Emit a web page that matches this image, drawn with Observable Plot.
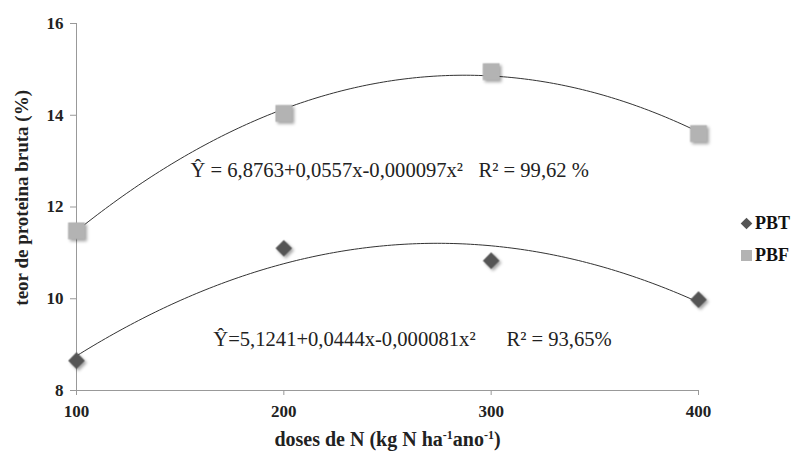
<!DOCTYPE html>
<html><head><meta charset="utf-8">
<script src="https://cdn.jsdelivr.net/npm/d3@7"></script>
<script src="https://cdn.jsdelivr.net/npm/@observablehq/plot@0.6"></script>
<style>
body{margin:0;background:#fff;}
#wrap{position:relative;width:797px;height:453px;font-family:"Liberation Serif",serif;}
.leg{position:absolute;left:741px;height:20px;font:bold 18px "Liberation Serif",serif;display:flex;align-items:center;gap:3px;color:#111;}
.sw{display:inline-block;width:11px;height:11px;}
</style></head>
<body><div id="wrap"></div>
<script>
const doses = [100, 200, 300, 400];
const pbt = [8.65, 11.1, 10.83, 9.98];
const pbf = [11.48, 14.04, 14.95, 13.6];
const coefPBT = [5.1241, 0.0444, -0.000081];
const coefPBF = [6.8763, 0.0557, -0.000097];
const yTicks = [8, 10, 12, 14, 16];
const xTicks = [100, 200, 300, 400];
const eqPBF = "Ŷ = 6,8763+0,0557x-0,000097x²   R² = 99,62 %";
const eqPBT = "Ŷ=5,1241+0,0444x-0,000081x²      R² = 93,65%";

const pts = doses.flatMap((d,i)=>[{x:d,y:pbt[i],s:"PBT"},{x:d,y:pbf[i],s:"PBF"}]);
const xs = d3.range(100, 400.5, 2);
const curve = (c,s)=>xs.map(x=>({x, y:c[0]+c[1]*x+c[2]*x*x, s}));

const plot = Plot.plot({
  width: 797, height: 453,
  marginLeft: 76, marginRight: 99, marginTop: 23, marginBottom: 63,
  style: {fontFamily: "'Liberation Serif', serif", background: "#fff", overflow: "visible"},
  x: {type: "linear", domain: [100, 400]},
  y: {type: "linear", domain: [8, 16]},
  marks: [
    Plot.ruleX([100], {stroke: "#999"}),
    Plot.ruleY([8], {stroke: "#999"}),
    Plot.axisY({ticks: yTicks, tickSize: 6, stroke: "#999", tickPadding: 7, fontSize: 17, fontWeight: "bold", fill: "#222", label: null, tickFormat: d=>d}),
    Plot.axisX({ticks: xTicks, tickSize: 5, stroke: "#999", tickPadding: 9, fontSize: 17, fontWeight: "bold", fill: "#222", label: null, tickFormat: d=>d}),
    Plot.line(curve(coefPBF,"PBF"), {x:"x", y:"y", stroke: "#333", strokeWidth: 1}),
    Plot.line(curve(coefPBT,"PBT"), {x:"x", y:"y", stroke: "#333", strokeWidth: 1}),
    Plot.dot(pts.filter(d=>d.s==="PBF"), {x:"x", y:"y", symbol: "square", r: 9.5, fill: "#b3b3b3", stroke: "none"}),
    Plot.dot(pts.filter(d=>d.s==="PBT"), {x:"x", y:"y", symbol: "diamond2", r: 7.5, fill: "#555", stroke: "none"}),
    Plot.text([eqPBF], {x: 155, y: 12.8, text: d=>d, textAnchor: "start", fontSize: 20.6, fill: "#222"}),
    Plot.text([eqPBT], {x: 166, y: 9.11, text: d=>d, textAnchor: "start", fontSize: 20.6, fill: "#222"}),
    Plot.text(["doses de N (kg N ha-1ano-1)"], {frameAnchor: "bottom", dy: 55, text: d=>d, fontSize: 20, fontWeight: "bold", fill: "#222"}),
    Plot.text(["teor de proteina bruta (%)"], {y: [12.2], frameAnchor: "left", dx: -55, rotate: -90, textAnchor: "middle", text: d=>d, fontSize: 19, fontWeight: "bold", fill: "#222"})
  ]
});
d3.select(plot).selectAll('g[aria-label="dot"]').attr("filter","drop-shadow(2px 2px 1.5px rgba(0,0,0,0.35))");
// superscripts on x label
d3.select(plot).selectAll("text").filter(function(){return this.textContent==="doses de N (kg N ha-1ano-1)";}).each(function(){
  const t = d3.select(this); t.text(null);
  const parts = [["doses de N (kg N ha",false],["-1",true],["ano",false],["-1",true],[")",false]];
  for (const [p,sup] of parts) {
    const ts = t.append("tspan").text(p);
    if (sup) ts.attr("font-size", 12).attr("baseline-shift", "super");
  }
});
const wrap = document.getElementById("wrap");
wrap.appendChild(plot);
const leg = [["PBT","#555",true,213],["PBF","#b3b3b3",false,245]];
for (const [name,col,dia,top] of leg) {
  const d = document.createElement("div");
  d.className = "leg"; d.style.top = top + "px";
  const s = document.createElement("span"); s.className="sw"; s.style.background = col;
  if (dia) { s.style.transform = "rotate(45deg) scale(0.75)"; }
  d.appendChild(s); d.appendChild(document.createTextNode(name));
  wrap.appendChild(d);
}
</script></body></html>
